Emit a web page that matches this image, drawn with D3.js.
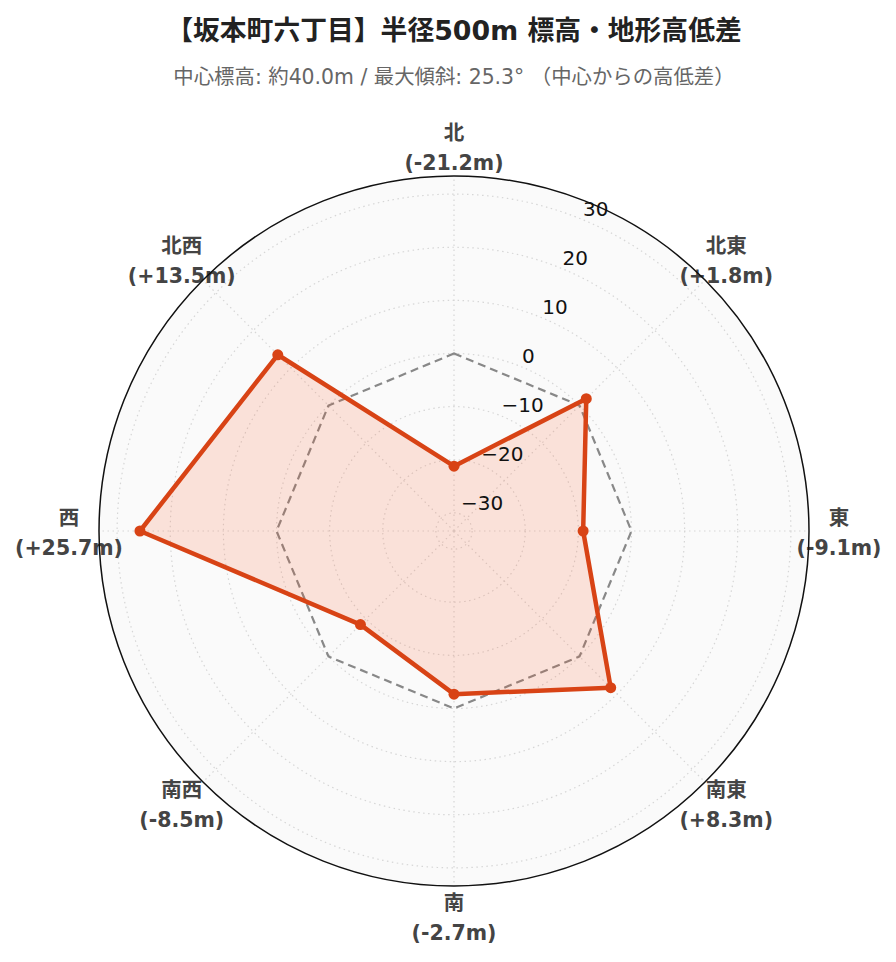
<!DOCTYPE html>
<html>
<head>
<meta charset="utf-8">
<script src="https://cdn.jsdelivr.net/npm/d3@7"></script>
<style>
  html, body { margin: 0; padding: 0; background: #fff; }
  svg { display: block; }
  text { font-family: "DejaVu Sans", "Noto Sans CJK JP", sans-serif; }
</style>
</head>
<body>
<svg id="chart"></svg>
<script>
// data
const directions = ["北", "北東", "東", "南東", "南", "南西", "西", "北西"];
const elevDiff = [-21.2, 1.8, -9.1, 8.3, -2.7, -8.5, 25.7, 13.5];
const baseline = [0, 0, 0, 0, 0, 0, 0, 0];
const radialTicks = [-30, -20, -10, 0, 10, 20, 30];
const radialRange = [-33.41, 33.41];

const titleText = "【坂本町六丁目】半径500m 標高・地形高低差";
const subtitleText = "中心標高: 約40.0m / 最大傾斜: 25.3° （中心からの高低差）";

const width = 896,
    height = 962,
    cx = 454,
    cy = 531,
    outerR = 355,
    lineColour = "#d84315";

const svg = d3.select("#chart")
    .attr("width", width)
    .attr("height", height)
    .attr("viewBox", `0 0 ${width} ${height}`);

svg.append("text")
    .attr("x", cx)
    .attr("y", 40)
    .attr("text-anchor", "middle")
    .attr("font-size", 26.8)
    .attr("font-weight", "bold")
    .attr("fill", "#222")
    .text(titleText);

svg.append("text")
    .attr("x", cx)
    .attr("y", 84)
    .attr("text-anchor", "middle")
    .attr("font-size", 20.4)
    .attr("fill", "#666")
    .text(subtitleText);

const r = d3.scaleLinear().domain(radialRange).range([0, outerR]);
const angle = d3.scaleLinear().domain([0, directions.length]).range([0, 2 * Math.PI]);

const polar = svg.append("g")
    .attr("transform", `translate(${cx},${cy})`);

// x, y for an angle measured clockwise from north
const px = (a, rad) => rad * Math.sin(a);
const py = (a, rad) => -rad * Math.cos(a);

polar.append("circle")
    .attr("r", outerR)
    .attr("fill", "#fafafa");

polar.append("g")
    .selectAll("circle")
    .data(radialTicks)
    .join("circle")
    .attr("r", d => r(d))
    .attr("fill", "none")
    .attr("stroke", "#d6d6d6")
    .attr("stroke-width", 1.2)
    .attr("stroke-dasharray", "1.5,3.5");

polar.append("g")
    .selectAll("line")
    .data(directions)
    .join("line")
    .attr("x1", 0)
    .attr("y1", 0)
    .attr("x2", (d, i) => px(angle(i), outerR))
    .attr("y2", (d, i) => py(angle(i), outerR))
    .attr("stroke", "#d6d6d6")
    .attr("stroke-width", 1.2)
    .attr("stroke-dasharray", "1.5,3.5");

const radialLine = d3.lineRadial()
    .angle((d, i) => angle(i))
    .radius(d => r(d))
    .curve(d3.curveLinearClosed);

polar.append("path")
    .attr("d", radialLine(baseline))
    .attr("fill", "none")
    .attr("stroke", "#888")
    .attr("stroke-width", 2.2)
    .attr("stroke-dasharray", "8,5");

polar.append("path")
    .attr("d", radialLine(elevDiff))
    .attr("fill", "rgba(255, 87, 34, 0.15)")
    .attr("stroke", lineColour)
    .attr("stroke-width", 4.5)
    .attr("stroke-linejoin", "round");

polar.append("g")
    .selectAll("circle")
    .data(elevDiff)
    .join("circle")
    .attr("cx", (d, i) => px(angle(i), r(d)))
    .attr("cy", (d, i) => py(angle(i), r(d)))
    .attr("r", 5.5)
    .attr("fill", lineColour);

// radial tick labels along the 22.5 degree line
const tickAngle = Math.PI / 8,
    fmt = d3.format("d");

polar.append("g")
    .selectAll("text")
    .data(radialTicks)
    .join("text")
    .attr("x", d => px(tickAngle, r(d)))
    .attr("y", d => py(tickAngle, r(d)) - 4)
    .attr("font-size", 20)
    .attr("fill", "#111")
    .text(d => fmt(d));

// direction labels
const labelR = 385;
const labels = polar.append("g")
    .selectAll("text")
    .data(directions)
    .join("text")
    .attr("x", (d, i) => px(angle(i), labelR))
    .attr("y", (d, i) => py(angle(i), labelR))
    .attr("text-anchor", "middle")
    .attr("font-size", 20.5)
    .attr("font-weight", "bold")
    .attr("fill", "#444");

labels.append("tspan")
    .attr("x", (d, i) => px(angle(i), labelR))
    .attr("dy", -6)
    .text(d => d);

labels.append("tspan")
    .attr("x", (d, i) => px(angle(i), labelR))
    .attr("dy", 30)
    .text((d, i) => `(${elevDiff[i] > 0 ? "+" : ""}${elevDiff[i].toFixed(1)}m)`);

polar.append("circle")
    .attr("r", outerR)
    .attr("fill", "none")
    .attr("stroke", "#111")
    .attr("stroke-width", 1.5);
</script>
</body>
</html>
